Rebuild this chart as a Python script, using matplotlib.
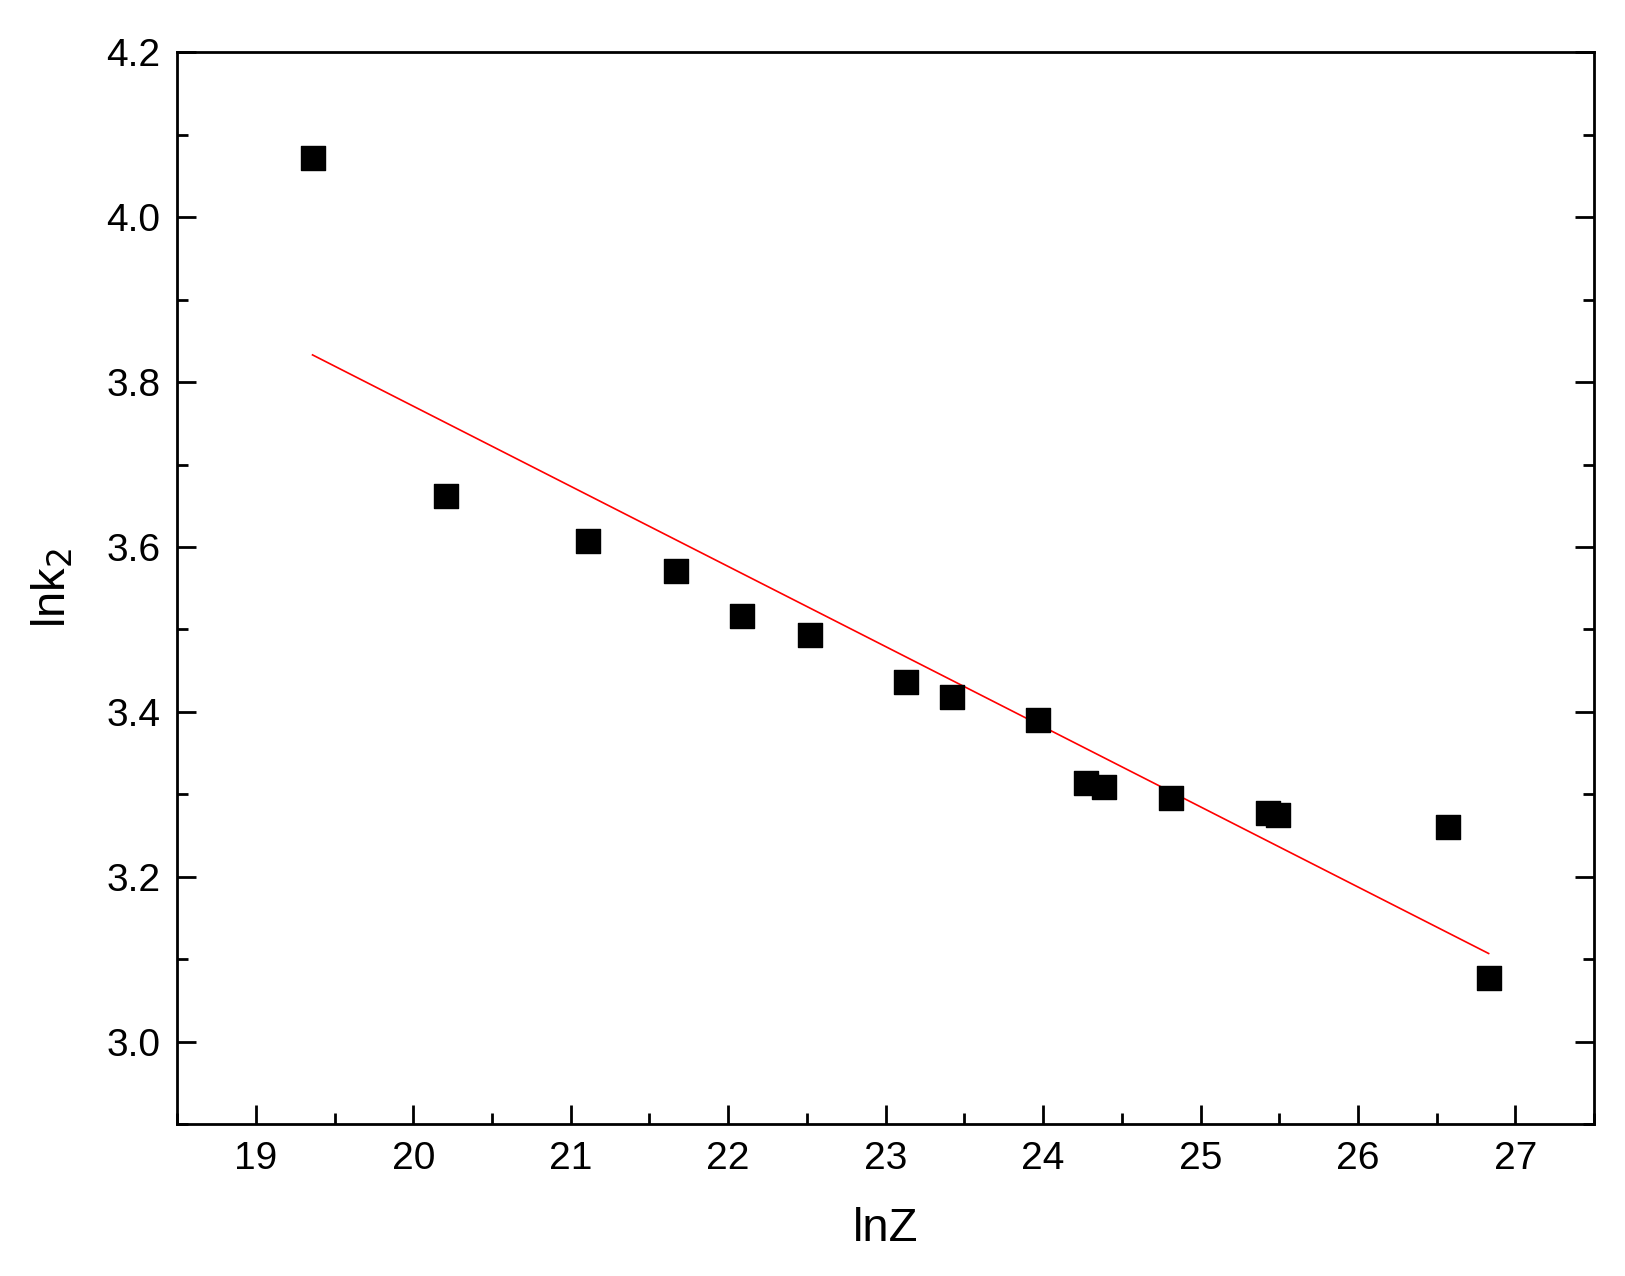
import matplotlib.pyplot as plt
from matplotlib.ticker import MultipleLocator

lnZ = [19.36, 20.21, 21.11, 21.67, 22.09, 22.52, 23.13, 23.42, 23.97,
       24.27, 24.39, 24.81, 25.43, 25.49, 26.57, 26.83]
lnk2 = [4.072, 3.662, 3.607, 3.571, 3.516, 3.493, 3.436, 3.418, 3.390,
        3.314, 3.309, 3.296, 3.277, 3.275, 3.261, 3.077]
fit_x = [19.36, 26.83]
fit_y = [3.833, 3.107]

plt.rcParams['font.family'] = ['Liberation Sans', 'DejaVu Sans']
fig = plt.figure(figsize=(16.25, 12.76), dpi=100)
ax = fig.add_axes([0.109, 0.119, 0.872, 0.840])

ax.scatter(lnZ, lnk2, marker='s', s=320, color='black', zorder=3)
ax.plot(fit_x, fit_y, color='red', lw=1.2)

ax.set_xlim(18.5, 27.5)
ax.set_ylim(2.9, 4.2)
ax.xaxis.set_major_locator(MultipleLocator(1))
ax.xaxis.set_minor_locator(MultipleLocator(0.5))
ax.yaxis.set_major_locator(MultipleLocator(0.2))
ax.yaxis.set_minor_locator(MultipleLocator(0.1))
ax.tick_params(which='both', direction='in', top=False, right=True, width=2,
               labelsize=28, pad=12)
ax.tick_params(which='major', length=14)
ax.tick_params(which='minor', length=8)
ax.set_xticks(range(19, 28))
ax.set_yticks([3.0, 3.2, 3.4, 3.6, 3.8, 4.0, 4.2])
for s in ax.spines.values():
    s.set_linewidth(2)

ax.set_xlabel('lnZ', fontsize=34, labelpad=22)
ax.set_ylabel('lnk$_2$', fontsize=34, labelpad=22)

fig.savefig('out.png')
